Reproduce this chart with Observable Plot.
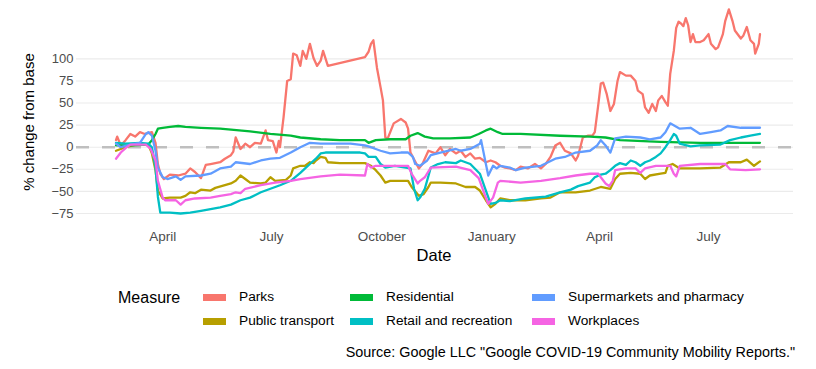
<!DOCTYPE html>
<html>
<head>
<meta charset="utf-8">
<script src="https://cdn.jsdelivr.net/npm/d3@7"></script>
<script src="https://cdn.jsdelivr.net/npm/@observablehq/plot@0.6"></script>
<style>
  html, body { margin: 0; padding: 0; background: #fff; }
  #wrap { position: relative; width: 816px; height: 369px; font-family: "Liberation Sans", Arial, sans-serif; overflow: hidden; }
  #chart { position: absolute; left: 0; top: 0; }
  .t { position: absolute; white-space: nowrap; color: #000; }
  .key { position: absolute; width: 23px; height: 7px; }
</style>
</head>
<body>
<div id="wrap"><div id="chart"></div></div>
<script>
// Days counted from 2020-02-15
const startDate = new Date(Date.UTC(2020, 1, 15));

const measures = ["Parks", "Public transport", "Residential", "Retail and recreation", "Supermarkets and pharmacy", "Workplaces"];
const measureColors = ["#F8766D", "#B79F00", "#00BA38", "#00BFC4", "#619CFF", "#F564E3"];

const parks = [[7,8],[8,12],[11,2],[15,8],[19,15],[23,12],[27,17],[31,15],[37,17],[40,5],[42,-19],[44,-30],[47,-36],[52,-31],[59,-32],[65,-30],[69,-24],[73,-28],[78,-35],[82,-20],[86,-19],[94,-17],[98,-13],[103,-9],[105,-5],[107,11],[111,-2],[115,4],[119,0],[123,5],[128,4],[132,19],[134,8],[138,7],[141,-6],[143,7],[144,0],[147,34],[150,75],[153,77],[155,106],[158,104],[161,92],[163,109],[166,100],[169,117],[172,101],[175,92],[178,98],[180,109],[184,92],[215,102],[218,108],[220,117],[222,121],[225,90],[228,68],[230,53],[232,11],[234,10],[239,27],[245,32],[249,28],[251,21],[253,-6],[260,-24],[263,-19],[268,-4],[274,-7],[278,0],[282,-9],[286,-2],[291,-7],[295,-4],[299,-11],[303,-7],[307,-13],[311,-12],[316,-17],[320,-15],[324,-17],[328,-21],[332,-23],[336,-24],[341,-26],[345,-22],[351,-24],[357,-19],[362,-24],[366,-19],[370,-11],[374,2],[378,5],[382,-4],[387,-7],[391,-15],[393,-10],[397,11],[401,13],[405,13],[407,17],[410,49],[412,72],[414,73],[417,60],[420,41],[423,49],[426,75],[428,85],[433,81],[437,81],[441,75],[443,64],[447,60],[449,45],[452,39],[455,49],[458,41],[460,53],[463,58],[466,51],[468,47],[470,83],[473,109],[475,135],[477,142],[479,140],[481,137],[483,146],[485,138],[487,119],[489,128],[491,119],[495,119],[498,121],[502,128],[504,117],[508,111],[510,113],[514,128],[516,143],[519,156],[522,143],[524,132],[529,123],[531,126],[534,136],[537,121],[540,117],[541,106],[544,117],[545,128]];

const publicTransport = [[7,-4],[15,0],[27,4],[34,3],[37,-7],[40,-26],[42,-49],[46,-58],[52,-57],[61,-57],[65,-55],[69,-51],[73,-52],[78,-48],[86,-49],[90,-46],[98,-43],[103,-41],[107,-38],[111,-32],[115,-36],[119,-40],[128,-41],[132,-40],[136,-34],[140,-38],[149,-37],[153,-32],[155,-24],[161,-21],[165,-21],[169,-17],[172,-18],[174,-15],[178,-11],[182,-12],[184,-17],[194,-18],[215,-18],[220,-21],[224,-26],[228,-32],[232,-40],[236,-38],[251,-38],[254,-45],[260,-55],[264,-53],[268,-45],[270,-40],[278,-40],[291,-41],[299,-45],[307,-45],[311,-49],[316,-60],[320,-68],[324,-64],[328,-58],[336,-60],[349,-60],[362,-58],[370,-57],[378,-51],[391,-51],[403,-49],[412,-45],[420,-47],[424,-36],[428,-30],[437,-29],[445,-30],[449,-36],[453,-32],[462,-30],[466,-29],[468,-21],[472,-19],[478,-24],[495,-24],[512,-23],[519,-17],[529,-17],[534,-14],[540,-21],[545,-16]];

const residential = [[7,2],[20,2],[34,3],[37,8],[40,15],[42,21],[46,22],[52,23],[59,24],[65,23],[78,22],[94,21],[119,18],[136,15],[153,13],[161,11],[178,9],[194,8],[215,8],[218,5],[224,8],[236,9],[249,9],[253,13],[259,16],[265,12],[272,10],[286,10],[303,11],[310,15],[316,19],[320,21],[326,17],[330,15],[345,15],[378,13],[403,12],[416,11],[428,8],[462,6],[495,5],[545,5]];

const retail = [[7,5],[15,4],[27,5],[34,4],[37,0],[40,-23],[42,-56],[44,-74],[52,-74],[61,-75],[69,-74],[78,-72],[86,-70],[94,-68],[103,-65],[111,-60],[119,-57],[128,-51],[136,-47],[144,-43],[153,-38],[161,-29],[165,-24],[169,-19],[174,-13],[178,-7],[182,-6],[211,-6],[215,-7],[218,-11],[224,-11],[228,-19],[232,-23],[240,-21],[249,-23],[253,-24],[256,-47],[259,-60],[261,-57],[265,-47],[270,-23],[276,-19],[282,-17],[291,-18],[295,-15],[303,-19],[311,-30],[316,-49],[320,-64],[324,-63],[328,-60],[336,-61],[349,-58],[366,-56],[378,-51],[387,-48],[393,-44],[403,-40],[407,-34],[412,-31],[416,-30],[420,-26],[424,-21],[428,-18],[433,-20],[437,-15],[441,-17],[445,-21],[449,-17],[453,-15],[458,-11],[462,-7],[466,0],[470,8],[473,15],[475,13],[478,4],[487,1],[495,2],[512,3],[520,8],[529,11],[537,13],[545,15]];

const supermarkets = [[7,4],[11,0],[19,3],[27,5],[32,15],[34,17],[37,13],[40,-4],[42,-23],[46,-34],[50,-36],[57,-33],[61,-37],[65,-33],[78,-32],[86,-30],[94,-24],[103,-22],[107,-17],[119,-19],[128,-15],[136,-13],[144,-12],[153,-6],[161,0],[169,5],[178,4],[203,4],[215,2],[220,0],[228,-4],[236,-7],[245,-6],[251,-6],[255,-11],[257,-19],[261,-21],[267,-15],[270,-9],[278,-6],[291,-2],[295,-4],[303,-2],[311,4],[312,8],[316,-19],[318,-32],[322,-21],[325,-24],[328,-21],[336,-23],[341,-26],[349,-23],[362,-21],[374,-13],[382,-11],[391,-6],[403,-4],[409,2],[412,8],[416,2],[420,-6],[424,10],[433,12],[445,11],[453,9],[462,11],[466,17],[470,27],[474,24],[478,21],[487,22],[495,15],[504,17],[512,19],[518,24],[529,22],[545,22]];

const workplaces = [[7,-13],[11,-6],[15,-1],[19,3],[32,3],[36,-2],[40,-15],[42,-38],[46,-57],[48,-60],[57,-60],[61,-65],[65,-60],[73,-58],[86,-57],[94,-55],[103,-53],[107,-51],[111,-52],[115,-47],[128,-43],[140,-40],[153,-38],[161,-36],[178,-33],[194,-31],[215,-32],[217,-19],[220,-23],[224,-21],[245,-21],[251,-21],[254,-30],[259,-41],[261,-38],[265,-34],[270,-23],[291,-22],[303,-26],[310,-35],[316,-57],[318,-64],[322,-57],[326,-40],[328,-38],[345,-40],[362,-38],[378,-35],[391,-32],[403,-30],[410,-30],[412,-34],[416,-41],[419,-44],[422,-38],[424,-26],[433,-24],[441,-24],[445,-29],[449,-24],[458,-21],[466,-21],[470,-21],[473,-30],[475,-33],[478,-21],[495,-19],[516,-19],[520,-25],[533,-26],[545,-25]];

const yTicks = [-75, -50, -25, 0, 25, 50, 75, 100];
const xTickDates = ["2020-04-01", "2020-07-01", "2020-10-01", "2021-01-01", "2021-04-01", "2021-07-01"];
const xTickLabels = ["April", "July", "October", "January", "April", "July"];

const seriesData = [parks, publicTransport, residential, retail, supermarkets, workplaces];
const rows = measures.flatMap((m, i) => seriesData[i].map(([d, v]) => ({
  date: d3.utcDay.offset(startDate, d), value: v, measure: m
})));
const xTicks = xTickDates.map(s => new Date(s + "T00:00:00Z"));

const chart = Plot.plot({
  width: 816,
  height: 265,
  marginLeft: 76,
  marginRight: 23,
  marginTop: 0,
  marginBottom: 39,
  style: { fontFamily: "'Liberation Sans', Arial, sans-serif", background: "transparent" },
  x: { type: "utc", domain: [d3.utcDay.offset(startDate, -26), d3.utcDay.offset(startDate, 573)] },
  y: { domain: [-89.7, 166] },
  color: { domain: measures, range: measureColors },
  marks: [
    Plot.ruleY(yTicks, { stroke: "#ebebeb", strokeWidth: 1.1 }),
    Plot.ruleY([0], { stroke: "#bfbfbf", strokeWidth: 2.6, strokeDasharray: "13,13" }),
    Plot.line(rows, { x: "date", y: "value", z: "measure", stroke: "measure", strokeWidth: 2.3, strokeLinejoin: "round" }),
    Plot.axisY({ ticks: yTicks, tickSize: 0, tickPadding: 3, label: null, fontSize: 13, fill: "#4d4d4d" }),
    Plot.axisX({ ticks: xTicks, tickSize: 0, tickPadding: 5, label: null, fontSize: 13.5, fill: "#4d4d4d",
      tickFormat: d => xTickLabels[xTicks.findIndex(t => +t === +d)] })
  ]
});
document.getElementById("chart").appendChild(chart);

const wrap = document.getElementById("wrap");
function addText(txt, left, top, size, extra) {
  const el = document.createElement("div");
  el.className = "t";
  el.textContent = txt;
  el.style.left = left + "px";
  el.style.top = top + "px";
  el.style.fontSize = size + "px";
  el.style.lineHeight = "1";
  if (extra) Object.assign(el.style, extra);
  wrap.appendChild(el);
  return el;
}
// axis titles
addText("Date", 434, 255, 16.5, { transform: "translate(-50%,-50%)" });
addText("% change from base", 28, 122, 15, { transform: "translate(-50%,-50%) rotate(-90deg)" });

// legend
addText("Measure", 118, 298, 16, { transform: "translateY(-50%)" });
const keyCols = [203, 350, 532];
const rowsY = [297, 321];
measures.forEach((m, i) => {
  const col = Math.floor(i / 2), row = i % 2;
  const k = document.createElement("div");
  k.className = "key";
  k.style.left = keyCols[col] + "px";
  k.style.top = (rowsY[row] - 3.5) + "px";
  k.style.background = measureColors[i];
  wrap.appendChild(k);
  addText(m, keyCols[col] + 36, rowsY[row], 13.7, { transform: "translateY(-50%)" });
});

// caption
addText("Source: Google LLC \"Google COVID-19 Community Mobility Reports.\"", 795, 352, 14.4, { transform: "translate(-100%,-50%)" });
</script>
</body>
</html>
